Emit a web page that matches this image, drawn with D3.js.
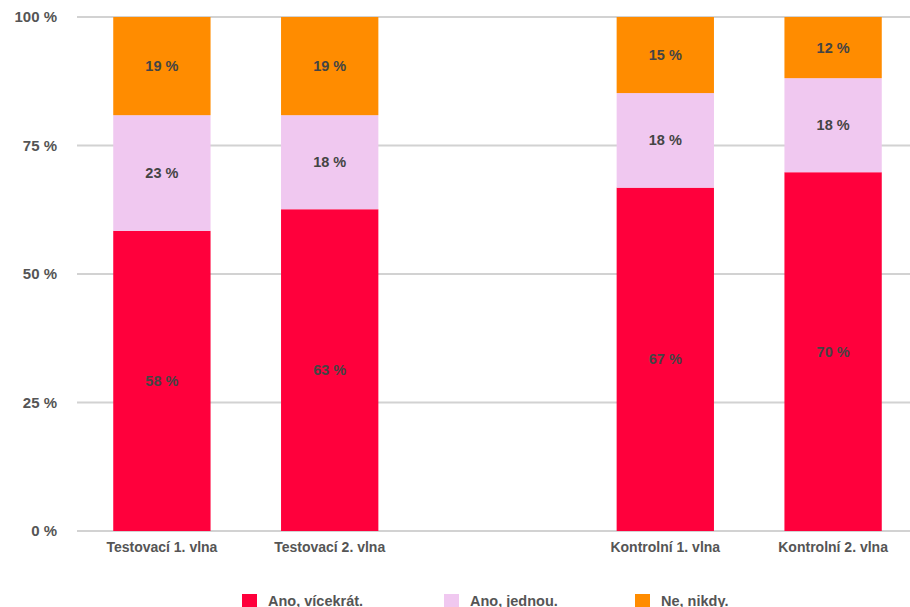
<!DOCTYPE html>
<html><head><meta charset="utf-8">
<script src="https://cdn.jsdelivr.net/npm/d3@7"></script>
<style>
body{margin:0;background:#fff;}
svg text{font-family:"Liberation Sans",Arial,sans-serif;font-weight:bold;}
</style></head>
<body><svg id="c" width="910" height="607"></svg>
<script>
const categories = ["Testovací 1. vlna","Testovací 2. vlna","","Kontrolní 1. vlna","Kontrolní 2. vlna"];
const seriesNames = ["Ano, vícekrát.","Ano, jednou.","Ne, nikdy."];
const anoVicekrat = [58.4, 62.6, null, 66.8, 69.8];
const anoJednou   = [22.5, 18.3, null, 18.4, 18.3];
const neNikdy     = [19.1, 19.1, null, 14.8, 11.9];
const yTicks = [0, 25, 50, 75, 100];
const colors = ["#ff003c", "#f0c8f0", "#ff8c00"];

const svg = d3.select("#c");
const x = d3.scaleBand().domain(categories.map((c,i)=>i)).range([78, 917]).paddingInner(0.42).paddingOuter(0.21);
const y = d3.scaleLinear().domain([0,100]).range([531, 17]);

// gridlines
svg.append("g").selectAll("line").data(yTicks).join("line")
  .attr("x1", 77).attr("x2", 910)
  .attr("y1", d=>y(d)).attr("y2", d=>y(d))
  .attr("stroke", "#d2d2d2").attr("stroke-width", 2);

// y labels
svg.append("g").selectAll("text").data(yTicks).join("text")
  .attr("x", 57).attr("y", d=>y(d)).attr("dy","0.35em")
  .attr("text-anchor","end").attr("font-size",15).attr("fill","#555")
  .text(d=>d+" %");

const rows = categories.map((c,i)=>({i, a:anoVicekrat[i], b:anoJednou[i], c:neNikdy[i]}))
  .filter(r=>r.a!=null);
const stack = d3.stack().keys(["a","b","c"]);
const stacked = stack(rows);

stacked.forEach((layer, k) => {
  const g = svg.append("g");
  g.selectAll("rect").data(layer).join("rect")
    .attr("x", d=>x(d.data.i)).attr("width", x.bandwidth())
    .attr("y", d=>y(d[1])).attr("height", d=>y(d[0])-y(d[1]))
    .attr("fill", colors[k]);
  g.selectAll("text").data(layer).join("text")
    .attr("x", d=>x(d.data.i)+x.bandwidth()/2)
    .attr("y", d=>(y(d[0])+y(d[1]))/2).attr("dy","0.35em")
    .attr("text-anchor","middle").attr("font-size",14.5).attr("fill","#444")
    .text(d=>Math.round(d[1]-d[0])+" %");
});

// category labels
svg.append("g").selectAll("text").data(categories.map((c,i)=>({c,i})).filter(d=>d.c)).join("text")
  .attr("x", d=>x(d.i)+x.bandwidth()/2).attr("y", 552)
  .attr("text-anchor","middle").attr("font-size",14).attr("fill","#555")
  .text(d=>d.c);

// legend
const legX = [242, 444, 635];
const lg = svg.append("g").selectAll("g").data(seriesNames).join("g")
  .attr("transform",(d,i)=>`translate(${legX[i]},594)`);
lg.append("rect").attr("width",15).attr("height",15).attr("fill",(d,i)=>colors[i]);
lg.append("text").attr("x",26).attr("y",12).attr("font-size",14.5).attr("fill","#555").text(d=>d);
</script></body></html>
